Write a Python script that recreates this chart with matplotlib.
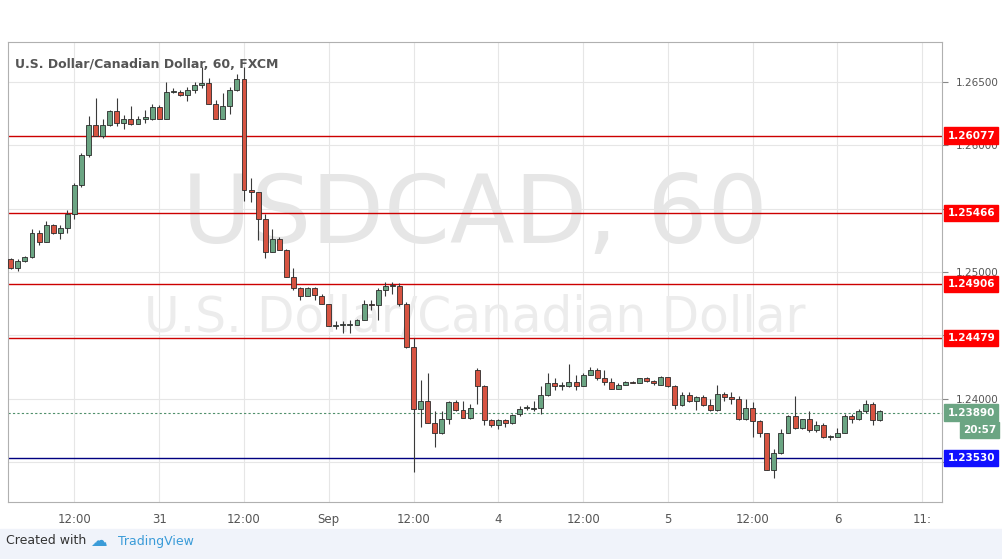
import matplotlib
matplotlib.use("Agg")
import matplotlib.pyplot as plt
from matplotlib.patches import Rectangle
import numpy as np

opens = [1.2510,1.2503,1.2509,1.2512,1.2531,1.2524,1.2537,1.2531,1.2535,1.2546,1.2569,1.2592,1.2616,1.2607,1.2616,1.2627,1.2618,1.2621,1.2617,1.2621,
 1.2621,1.2630,1.2621,1.2642,1.2642,1.2640,1.2644,1.2648,1.2649,1.2633,1.2621,1.2631,1.2644,1.2652,1.2565,1.2563,1.2542,1.2516,1.2526,1.2517,
 1.2496,1.2487,1.2481,1.2487,1.2481,1.2475,1.2457,1.2458,1.2458,1.2458,1.2462,1.2475,1.2474,1.2486,1.2489,1.2489,1.2475,1.2441,1.2392,1.2398,
 1.2381,1.2373,1.2384,1.2397,1.2391,1.2385,1.2423,1.2410,1.2383,1.2379,1.2383,1.2381,1.2388,1.2393,1.2392,1.2393,1.2403,1.2412,1.2410,1.2410,
 1.2413,1.2410,1.2419,1.2423,1.2416,1.2413,1.2408,1.2411,1.2413,1.2412,1.2416,1.2414,1.2411,1.2417,1.2410,1.2395,1.2403,1.2398,1.2401,1.2395,
 1.2391,1.2404,1.2401,1.2400,1.2384,1.2393,1.2382,1.2373,1.2344,1.2357,1.2373,1.2386,1.2377,1.2384,1.2375,1.2379,1.2370,1.2370,1.2373,1.2386,
 1.2384,1.2390,1.2396,1.2383]
closes = [1.2503,1.2509,1.2512,1.2531,1.2524,1.2537,1.2531,1.2535,1.2546,1.2569,1.2592,1.2616,1.2607,1.2616,1.2627,1.2618,1.2621,1.2617,1.2621,1.2622,
 1.2630,1.2621,1.2642,1.2643,1.2640,1.2644,1.2648,1.2649,1.2633,1.2621,1.2631,1.2644,1.2652,1.2565,1.2563,1.2542,1.2516,1.2526,1.2517,1.2496,
 1.2487,1.2481,1.2487,1.2482,1.2475,1.2457,1.2458,1.2458,1.2459,1.2462,1.2475,1.2474,1.2486,1.2489,1.2489,1.2475,1.2441,1.2392,1.2398,1.2381,
 1.2373,1.2384,1.2397,1.2391,1.2385,1.2393,1.2410,1.2383,1.2379,1.2383,1.2381,1.2387,1.2392,1.2393,1.2393,1.2403,1.2412,1.2410,1.2411,1.2413,
 1.2410,1.2419,1.2423,1.2416,1.2413,1.2408,1.2411,1.2413,1.2412,1.2416,1.2414,1.2412,1.2417,1.2410,1.2395,1.2403,1.2398,1.2401,1.2395,1.2391,
 1.2404,1.2401,1.2400,1.2384,1.2393,1.2382,1.2373,1.2344,1.2357,1.2373,1.2386,1.2377,1.2384,1.2375,1.2379,1.2370,1.2370,1.2373,1.2386,1.2384,
 1.2390,1.2396,1.2383,1.2390]
highs = [1.2511,1.2510,1.2513,1.2534,1.2533,1.2540,1.2538,1.2537,1.2549,1.2570,1.2594,1.2623,1.2637,1.2621,1.2628,1.2637,1.2624,1.2631,1.2623,1.2628,
 1.2633,1.2632,1.2650,1.2645,1.2644,1.2646,1.2650,1.2662,1.2653,1.2636,1.2641,1.2646,1.2656,1.2662,1.2574,1.2563,1.2546,1.2534,1.2528,1.2518,
 1.2503,1.2488,1.2488,1.2488,1.2483,1.2475,1.2461,1.2461,1.2462,1.2463,1.2478,1.2478,1.2487,1.2492,1.2492,1.2491,1.2476,1.2448,1.2415,1.2420,
 1.2390,1.2390,1.2398,1.2399,1.2398,1.2396,1.2424,1.2411,1.2384,1.2384,1.2384,1.2388,1.2394,1.2395,1.2398,1.2410,1.2420,1.2416,1.2413,1.2427,
 1.2419,1.2420,1.2425,1.2424,1.2423,1.2416,1.2412,1.2414,1.2414,1.2416,1.2417,1.2415,1.2418,1.2417,1.2411,1.2405,1.2405,1.2402,1.2403,1.2400,
 1.2411,1.2405,1.2405,1.2402,1.2400,1.2397,1.2383,1.2373,1.2360,1.2376,1.2387,1.2402,1.2384,1.2390,1.2382,1.2381,1.2371,1.2377,1.2388,1.2388,
 1.2392,1.2399,1.2397,1.2391]
lows = [1.2502,1.2501,1.2508,1.2511,1.2521,1.2524,1.2530,1.2526,1.2531,1.2542,1.2567,1.2591,1.2607,1.2606,1.2615,1.2615,1.2613,1.2616,1.2617,1.2618,
 1.2620,1.2621,1.2621,1.2641,1.2639,1.2635,1.2641,1.2645,1.2633,1.2621,1.2621,1.2625,1.2643,1.2556,1.2555,1.2525,1.2511,1.2516,1.2517,1.2496,
 1.2486,1.2478,1.2481,1.2478,1.2475,1.2457,1.2455,1.2452,1.2452,1.2458,1.2462,1.2470,1.2462,1.2481,1.2483,1.2473,1.2440,1.2342,1.2378,1.2381,
 1.2362,1.2372,1.2380,1.2390,1.2385,1.2384,1.2396,1.2379,1.2378,1.2376,1.2378,1.2380,1.2386,1.2391,1.2390,1.2388,1.2402,1.2407,1.2407,1.2409,
 1.2407,1.2410,1.2419,1.2415,1.2411,1.2408,1.2408,1.2411,1.2412,1.2412,1.2413,1.2411,1.2411,1.2409,1.2392,1.2394,1.2397,1.2391,1.2394,1.2390,
 1.2390,1.2398,1.2396,1.2383,1.2383,1.2370,1.2370,1.2344,1.2337,1.2356,1.2373,1.2376,1.2376,1.2374,1.2374,1.2369,1.2367,1.2370,1.2373,1.2381,
 1.2383,1.2389,1.2379,1.2382]

x_tick_labels = ["12:00", "31", "12:00", "Sep", "12:00", "4", "12:00", "5", "12:00", "6", "11:"]
level_values = [1.26077, 1.25466, 1.24906, 1.24479]
support_value = 1.23530
last_price = 1.23890
y_ticks = [1.235, 1.240, 1.245, 1.250, 1.255, 1.260, 1.265]
y_tick_shown = [False, True, False, True, False, True, True]

W, H = 1002, 559
fig = plt.figure(figsize=(W/100, H/100), dpi=100)
fig.patch.set_facecolor("white")
fig.add_artist(Rectangle((0, 0), 1, 30/H, transform=fig.transFigure, color="#f0f3fa", zorder=0))
ax = fig.add_axes([8/W, 1-502/H, 934/W, 460/H])
ax.set_facecolor("white")
for s in ax.spines.values():
    s.set_color("#b0b0b0"); s.set_linewidth(0.8)

n = len(opens)
xs = np.arange(n)
ax.set_xlim(-0.4, n + 7.8)
ax.set_ylim(1.23184, 1.26816)

xt = [9 + 12*k for k in range(len(x_tick_labels))]
for xv in xt:
    ax.axvline(xv, color="#e6e6e6", lw=0.8, zorder=0)
for yv in y_ticks:
    ax.axhline(yv, color="#e6e6e6", lw=0.8, zorder=0)

ax.text(0.5, 0.62, "USDCAD, 60", transform=ax.transAxes, ha="center", va="center",
        fontsize=68, color="#e6e6e6", zorder=0.5)
ax.text(0.5, 0.40, "U.S. Dollar/Canadian Dollar", transform=ax.transAxes, ha="center",
        va="center", fontsize=35, color="#ececec", zorder=0.5)

up_c, dn_c = "#6ba583", "#d75442"
for i in range(n):
    o, c, h, l = opens[i], closes[i], highs[i], lows[i]
    col = up_c if c >= o else dn_c
    ax.vlines(xs[i], l, h, color="#3a3a3a", lw=0.8, zorder=3)
    bh = max(abs(c-o), 0.00006)
    ax.add_patch(Rectangle((xs[i]-0.35, min(o, c)), 0.7, bh, facecolor=col,
                           edgecolor="#2b2b2b", lw=0.6, zorder=4))

for lv in level_values:
    ax.axhline(lv, color="#cc0000", lw=1.0, zorder=2)
ax.axhline(support_value, color="#000080", lw=1.0, zorder=2)
ax.axhline(last_price, color="#4f8f6a", lw=0.8, ls=(0, (2, 2)), zorder=2)

ax.yaxis.tick_right()
ax.set_yticks(y_ticks)
ax.set_yticklabels([f"{v:.5f}" if s else "" for v, s in zip(y_ticks, y_tick_shown)],
                   fontsize=7.5, color="#555555")
ax.tick_params(axis="y", length=4, color="#888888", pad=6)
ax.set_xticks(xt)
ax.set_xticklabels(x_tick_labels, fontsize=8.5, color="#555555")
ax.tick_params(axis="x", length=0, pad=8)

def tag(val, txt, fc, dx=4):
    ax.annotate(txt, xy=(1, val), xycoords=("axes fraction", "data"), xytext=(dx, 0),
                textcoords="offset points", ha="left", va="center", fontsize=7.5,
                fontweight="bold", color="white",
                bbox=dict(boxstyle="square,pad=0.3", fc=fc, ec=fc), zorder=10,
                annotation_clip=False)

for lv in level_values:
    tag(lv, f"{lv:.5f}", "#ff0000")
tag(support_value, f"{support_value:.5f}", "#1010ff")
tag(last_price, f"{last_price:.5f}", "#6ba583")
ax.annotate("20:57", xy=(1, last_price - 0.0014), xycoords=("axes fraction", "data"),
            xytext=(15, 0), textcoords="offset points", ha="left", va="center",
            fontsize=7.5, fontweight="bold", color="white",
            bbox=dict(boxstyle="square,pad=0.3", fc="#6ba583", ec="#6ba583"),
            annotation_clip=False)

ax.text(0.008, 0.965, "U.S. Dollar/Canadian Dollar, 60, FXCM", transform=ax.transAxes,
        fontsize=9, fontweight="bold", color="#555555", va="top")

fig.text(6/W, 1-541/H, "Created with", fontsize=9, color="#333333", va="center")
fig.text(118/W, 1-541/H, "TradingView", fontsize=9, color="#3a9bd8", va="center")
fig.text(90/W, 1-541/H, "☁", fontsize=12, color="#3a9bd8", va="center")

fig.savefig("out.png", dpi=100)
